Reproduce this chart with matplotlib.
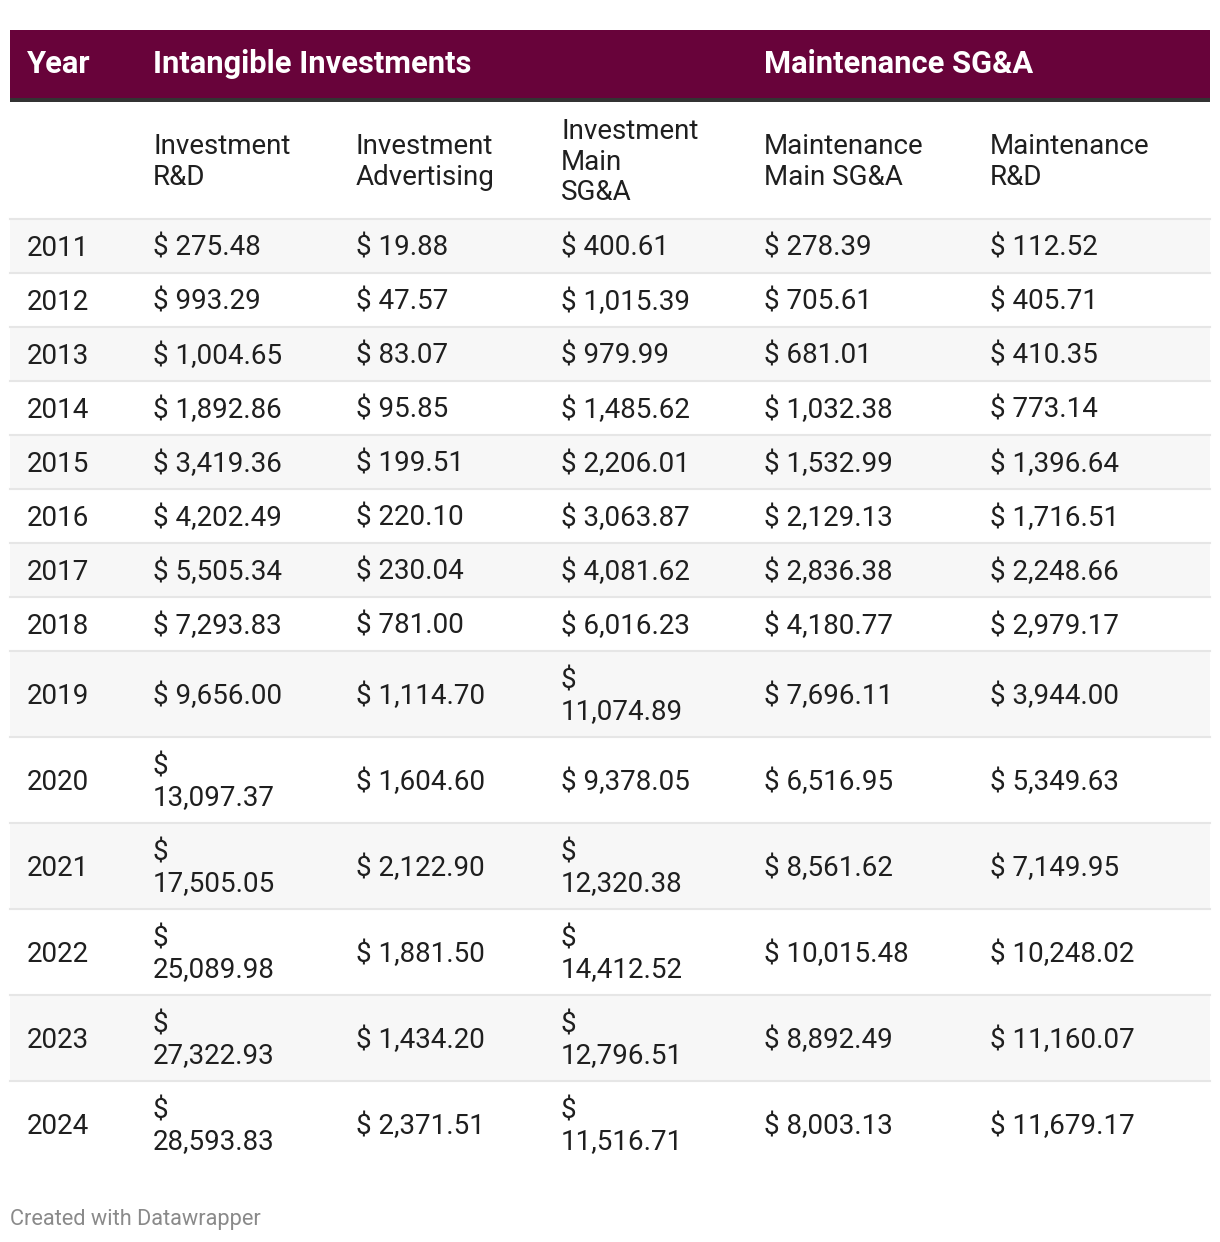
import matplotlib
matplotlib.use("Agg")
import matplotlib.pyplot as plt
from matplotlib.patches import Rectangle

plt.rcParams['font.family'] = ['Roboto', 'DejaVu Sans']

years = [2011, 2012, 2013, 2014, 2015, 2016, 2017, 2018, 2019, 2020, 2021, 2022, 2023, 2024]
inv_rd = [275.48, 993.29, 1004.65, 1892.86, 3419.36, 4202.49, 5505.34, 7293.83,
          9656.00, 13097.37, 17505.05, 25089.98, 27322.93, 28593.83]
inv_adv = [19.88, 47.57, 83.07, 95.85, 199.51, 220.10, 230.04, 781.00,
           1114.70, 1604.60, 2122.90, 1881.50, 1434.20, 2371.51]
inv_sga = [400.61, 1015.39, 979.99, 1485.62, 2206.01, 3063.87, 4081.62, 6016.23,
           11074.89, 9378.05, 12320.38, 14412.52, 12796.51, 11516.71]
maint_sga = [278.39, 705.61, 681.01, 1032.38, 1532.99, 2129.13, 2836.38, 4180.77,
             7696.11, 6516.95, 8561.62, 10015.48, 8892.49, 8003.13]
maint_rd = [112.52, 405.71, 410.35, 773.14, 1396.64, 1716.51, 2248.66, 2979.17,
            3944.00, 5349.63, 7149.95, 10248.02, 11160.07, 11679.17]

group_labels = ["Year", "Intangible Investments", "Maintenance SG&A"]
col_labels = ["Investment\nR&D", "Investment\nAdvertising", "Investment\nMain\nSG&A",
              "Maintenance\nMain SG&A", "Maintenance\nR&D"]

columns = [inv_rd, inv_adv, inv_sga, maint_sga, maint_rd]
col_x = [153, 356, 561, 764, 990]
narrow = [True, False, True, False, False]  # narrow columns wrap big numbers

W, H = 1220, 1242
fig = plt.figure(figsize=(W / 100, H / 100), dpi=100)
ax = fig.add_axes([0, 0, 1, 1])
ax.set_xlim(0, W)
ax.set_ylim(H, 0)
ax.axis("off")

left, right = 10, 1210
maroon = "#68033a"
txt = "#1f1f1f"
fs = 20
dy = 2  # small nudge so text sits like the browser render

# header bar
ax.add_patch(Rectangle((left, 30), right - left, 68, color=maroon, lw=0))
ax.add_patch(Rectangle((left, 98), right - left, 4, color="#333333", lw=0))
for lab, x in zip(group_labels, [27, 153, 764]):
    ax.text(x, 64, lab, color="white", fontsize=22.2, fontweight="bold", va="center", ha="left")

# sub header
for lab, x in zip(col_labels, col_x):
    ax.text(x, 160 + dy, lab, color=txt, fontsize=fs, va="center", ha="left", linespacing=1.15)
ax.plot([left, right], [218.5, 218.5], color="#e6e6e6", lw=1.5)


def fmt(v, wrap):
    s = f"{v:,.2f}"
    if wrap and v >= 10000:
        return "$\n" + s
    return "$ " + s


y = 219
for i, yr in enumerate(years):
    vals = [c[i] for c in columns]
    tall = any(n and v >= 10000 for n, v in zip(narrow, vals))
    h = 86 if tall else 54
    if i % 2 == 0:
        ax.add_patch(Rectangle((left, y), right - left, h, color="#f7f7f7", lw=0))
    cy = y + h / 2 + dy
    ax.text(27, cy, str(yr), color=txt, fontsize=fs, va="center", ha="left")
    for v, x, n in zip(vals, col_x, narrow):
        ax.text(x, cy, fmt(v, n), color=txt, fontsize=fs, va="center", ha="left", linespacing=1.15)
    y += h
    if i < len(years) - 1:
        ax.plot([left, right], [y, y], color="#e6e6e6", lw=1.5)

ax.text(10, 1219, "Created with Datawrapper", color="#8a8a8a", fontsize=15.7, va="center", ha="left")

fig.savefig("out.png", dpi=100, facecolor="white")
